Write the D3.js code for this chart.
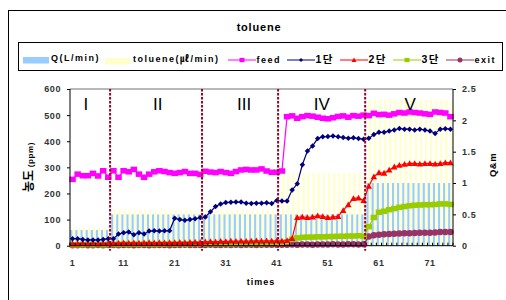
<!DOCTYPE html>
<html>
<head>
<meta charset="utf-8">
<script src="https://cdn.jsdelivr.net/npm/d3@7"></script>
<style>
  body { margin: 0; background: #fff; }
  text { font-family: "Liberation Sans", Arial, "Noto Sans CJK KR", sans-serif; }
</style>
</head>
<body>
<div id="chart"></div>
<script>
//Data
const times = d3.range(1, 76);
const qFlow = [0.25,0.25,0.25,0.25,0.25,0.25,0.25,0.25,
  0.5,0.5,0.5,0.5,0.5,0.5,0.5,0.5,0.5,0.5,0.5,0.5,0.5,0.5,0.5,0.5,0.5,0.5,
  0.5,0.5,0.5,0.5,0.5,0.5,0.5,0.5,0.5,0.5,0.5,0.5,0.5,0.5,0.5,
  0.5,0.5,0.5,0.5,0.5,0.5,0.5,0.5,0.5,0.5,0.5,0.5,0.5,0.5,0.5,0.5,0.5,
  1,1,1,1,1,1,1,1,1,1,1,1,1,1,1,1,1];
const tolFlow = [0.29,0.29,0.29,0.29,0.29,0.29,0.29,0.29,
  0.57,0.57,0.57,0.57,0.57,0.57,0.57,0.57,0.57,0.57,0.57,0.57,0.57,0.57,0.57,0.57,0.57,0.57,
  0.57,0.57,0.57,0.57,0.57,0.57,0.57,0.57,0.57,0.57,0.57,0.57,0.57,0.57,0.57,
  1.16,1.16,1.16,1.16,1.16,1.16,1.16,1.16,1.16,1.16,1.16,1.16,1.16,1.16,1.16,1.16,1.16,
  2.33,2.33,2.33,2.33,2.33,2.33,2.33,2.33,2.33,2.33,2.33,2.33,2.33,2.33,2.33,2.33,2.33];
const feed = [254,274,268,268,277,267,287,262,
  287,262,287,283,292,274,262,274,283,287,284,280,277,280,284,277,277,273,
  285,282,280,284,280,277,284,290,292,290,290,294,286,281,281,
  286,494,497,488,494,498,496,492,488,486,490,495,497,492,498,496,500,
  498,507,502,503,500,505,510,508,512,510,508,505,503,512,510,508,494];
const stage1 = [27,27,24,22,22,22,24,27,
  27,45,50,52,42,50,45,56,57,56,57,57,105,100,97,100,103,108,
  110,130,150,160,165,166,167,167,163,162,163,163,164,162,173,
  171,171,213,237,310,363,382,410,417,418,420,417,414,411,413,410,408,
  411,426,434,434,439,443,449,446,446,443,446,443,439,430,446,448,446];
const stage2 = [8,8,9,8,9,8,9,9,
  10,10,11,10,11,10,11,12,11,12,11,12,12,13,12,13,14,13,
  15,16,15,17,16,18,17,18,17,18,19,18,19,18,19,
  18,20,28,108,110,108,110,115,112,108,110,112,135,157,181,183,173,
  228,264,280,278,290,302,308,312,315,315,313,315,315,313,315,318,318];
const stage3 = [4,4,4,5,4,5,4,5,
  5,5,6,5,6,5,6,6,5,6,6,7,6,7,6,7,7,6,
  7,8,7,8,8,7,8,8,9,8,9,8,9,9,10,
  12,15,24,30,32,33,33,34,34,35,35,36,36,37,37,38,36,
  73,108,128,132,138,142,147,150,153,155,156,157,157,158,160,160,158];
const exitC = [2,2,3,2,2,3,2,3,
  3,2,3,3,2,3,3,2,3,3,3,2,3,3,4,3,3,3,
  3,4,3,3,4,3,4,3,4,4,3,4,4,4,4,
  4,4,5,4,5,5,4,5,5,5,6,5,5,6,6,5,6,
  35,40,42,44,45,46,47,48,48,49,50,50,50,51,52,52,52];
const periodNames = ["I", "II", "III", "IV", "V"];
const periodLabelAt = [3.6, 17.7, 34.6, 49.8, 67.1];
const dividers = [8.35, 26.35, 41.25, 58.3];
const leftTicks = [0, 100, 200, 300, 400, 500, 600];
const rightTicks = [0, 0.5, 1, 1.5, 2, 2.5];
const xTickLabels = [1, 11, 21, 31, 41, 51, 61, 71];

//Layout
const W = 506, H = 300;
const plot = {left: 70, right: 453, top: 89, bottom: 245.7};

const svg = d3.select("#chart").append("svg").attr("width", W).attr("height", H);

//Outer chart border (runs off the right and bottom edges)
svg.append("rect").attr("x", 8.5).attr("y", 10.5).attr("width", 520).attr("height", 320)
  .attr("fill", "none").attr("stroke", "#000");

svg.append("text").text("toluene").attr("x", 259).attr("y", 31).attr("text-anchor", "middle")
  .attr("font-size", 11).attr("font-weight", "bold").attr("letter-spacing", 0.8);

//Scales
const xBand = d3.scaleBand().domain(times).range([plot.left, plot.right]);
const xSub = d3.scaleBand().domain(["q", "tol"]).range([0, xBand.bandwidth()]).paddingInner(0).paddingOuter(0.12);
const xc = d3.scaleLinear().domain([0.5, 75.5]).range([plot.left, plot.right]);
const y = d3.scaleLinear().domain([0, 600]).range([plot.bottom, plot.top]);
const y2 = d3.scaleLinear().domain([0, 2.5]).range([plot.bottom, plot.top]);

//Plot area top border
svg.append("line").attr("x1", plot.left).attr("x2", plot.right).attr("y1", plot.top).attr("y2", plot.top)
  .attr("stroke", "#a0a0a0").attr("stroke-width", 1.5);

//Bars
const barG = svg.append("g");
barG.selectAll(".q").data(times).enter().append("rect")
  .attr("x", d => xBand(d) + xSub("q")).attr("width", xSub.bandwidth())
  .attr("y", (d, i) => y2(qFlow[i])).attr("height", (d, i) => plot.bottom - y2(qFlow[i]))
  .attr("fill", "#99ccff");
barG.selectAll(".t").data(times).enter().append("rect")
  .attr("x", d => xBand(d) + xSub("tol")).attr("width", xSub.bandwidth())
  .attr("y", (d, i) => y2(tolFlow[i])).attr("height", (d, i) => plot.bottom - y2(tolFlow[i]))
  .attr("fill", "#ffffcc");

//Lines
const series = [
  {name: "feed", vals: feed, color: "#ff00ff", shape: "square", size: 6.5},
  {name: "1단", vals: stage1, color: "#000080", shape: "diamond", size: 5.5},
  {name: "2단", vals: stage2, color: "#ff0000", shape: "triangle", size: 6.5},
  {name: "3단", vals: stage3, color: "#99cc00", shape: "square", size: 6.5},
  {name: "exit", vals: exitC, color: "#993366", shape: "circle", size: 6.5}
];

function marker(g, shape, size, color) {
  const s = size / 2;
  if (shape === "square") g.append("rect").attr("x", -s).attr("y", -s * 0.85).attr("width", size).attr("height", size * 0.85).attr("fill", color);
  if (shape === "diamond") g.append("path").attr("d", `M0,${-s}L${s},0L0,${s}L${-s},0Z`).attr("fill", color);
  if (shape === "triangle") g.append("path").attr("d", `M0,${-s}L${s},${s * 0.8}L${-s},${s * 0.8}Z`).attr("fill", color);
  if (shape === "circle") g.append("circle").attr("r", s).attr("fill", color);
}

const line = d3.line().x((d, i) => xc(times[i])).y(d => y(d));
series.slice().reverse().forEach(s => {
  const g = svg.append("g");
  g.append("path").attr("d", line(s.vals)).attr("fill", "none").attr("stroke", s.color).attr("stroke-width", 1.2);
  s.vals.forEach((v, i) => {
    const m = g.append("g").attr("transform", `translate(${xc(times[i])},${y(v)})`);
    marker(m, s.shape, s.size, s.color);
  });
});

//Axes
const axL = svg.append("g").attr("transform", `translate(${plot.left},0)`)
  .call(d3.axisLeft(y).tickValues(leftTicks).tickSize(3).tickPadding(6));
const axR = svg.append("g").attr("transform", `translate(${plot.right},0)`)
  .call(d3.axisRight(y2).tickValues(rightTicks).tickSize(3).tickPadding(6).tickFormat(d3.format("~g")));
[axL, axR].forEach(a => {
  a.select(".domain").attr("stroke", "#000").attr("d", `M0,${plot.top}V${plot.bottom}`);
  a.selectAll(".tick line").attr("stroke", "#000");
  a.selectAll("text").attr("font-size", 9).attr("fill", "#333").attr("font-weight", "bold")
    .attr("letter-spacing", 0.6).style("font-family", '"Liberation Sans", Arial, sans-serif');
});

//Category axis
const axB = svg.append("g");
axB.append("line").attr("x1", plot.left).attr("x2", plot.right).attr("y1", plot.bottom).attr("y2", plot.bottom).attr("stroke", "#000");
axB.selectAll(".ctick").data(d3.range(0, 76)).enter().append("line")
  .attr("x1", d => xc(d + 0.5)).attr("x2", d => xc(d + 0.5))
  .attr("y1", plot.bottom).attr("y2", plot.bottom - 3).attr("stroke", "#000");
axB.selectAll(".clab").data(xTickLabels).enter().append("text")
  .attr("x", d => xc(d)).attr("y", 266).attr("text-anchor", "middle").text(d => d)
  .attr("font-size", 9).attr("font-weight", "bold").attr("fill", "#333").attr("letter-spacing", 0.6);

svg.append("text").text("times").attr("x", 261).attr("y", 285).attr("text-anchor", "middle")
  .attr("font-size", 9).attr("font-weight", "bold").attr("letter-spacing", 1);

//Axis titles
const lt = svg.append("text").attr("transform", "translate(33,167) rotate(-90)").attr("text-anchor", "middle");
lt.append("tspan").text("농도").attr("font-size", 12).attr("font-weight", "bold").style("font-family", '"Noto Sans CJK KR", sans-serif');
lt.append("tspan").text(" (ppm)").attr("font-size", 8).attr("font-weight", "bold").attr("letter-spacing", 0.6);
svg.append("text").text("Q&m").attr("transform", "translate(496,165) rotate(-90)").attr("text-anchor", "middle")
  .attr("font-size", 9.5).attr("font-weight", "bold").attr("letter-spacing", 0.5);

//Period dividers and labels
svg.selectAll(".div").data(dividers).enter().append("line")
  .attr("x1", d => xc(d)).attr("x2", d => xc(d)).attr("y1", plot.top).attr("y2", plot.bottom + 5)
  .attr("stroke", "#a50021").attr("stroke-width", 2).attr("stroke-dasharray", "2.5,1.5");
svg.selectAll(".plab").data(periodNames).enter().append("text")
  .attr("x", (d, i) => xc(periodLabelAt[i])).attr("y", 110).attr("text-anchor", "middle")
  .attr("font-size", 17).text(d => d);

//Legend
const leg = svg.append("g");
leg.append("rect").attr("x", 18.5).attr("y", 42.5).attr("width", 484).attr("height", 28)
  .attr("fill", "#fff").attr("stroke", "#000");
leg.append("rect").attr("x", 23).attr("y", 57).attr("width", 26).attr("height", 6.5).attr("fill", "#99ccff");
leg.append("text").text("Q(L/min)").attr("x", 51).attr("y", 61);
leg.append("rect").attr("x", 105).attr("y", 58).attr("width", 25).attr("height", 6.5).attr("fill", "#ffffcc");
leg.append("text").text("toluene(㎕/min)").attr("x", 133).attr("y", 62);
const legX = [228, 287, 340, 393, 446];
series.forEach((s, i) => {
  const g = leg.append("g").attr("transform", `translate(${legX[i]},60)`);
  g.append("line").attr("x1", 0).attr("x2", 28).attr("stroke", s.color);
  const m = g.append("g").attr("transform", "translate(14,0)");
  marker(m, s.shape, s.size - 1.5, s.color);
  g.append("text").text(s.name).attr("x", 28.5).attr("y", 3)
    .attr("font-size", i > 0 && i < 4 ? 10.5 : 9);
});
leg.selectAll("text").attr("font-weight", "bold").attr("letter-spacing", 1.5)
  .filter(function() { return !this.hasAttribute("font-size"); }).attr("font-size", 9);
</script>
</body>
</html>
